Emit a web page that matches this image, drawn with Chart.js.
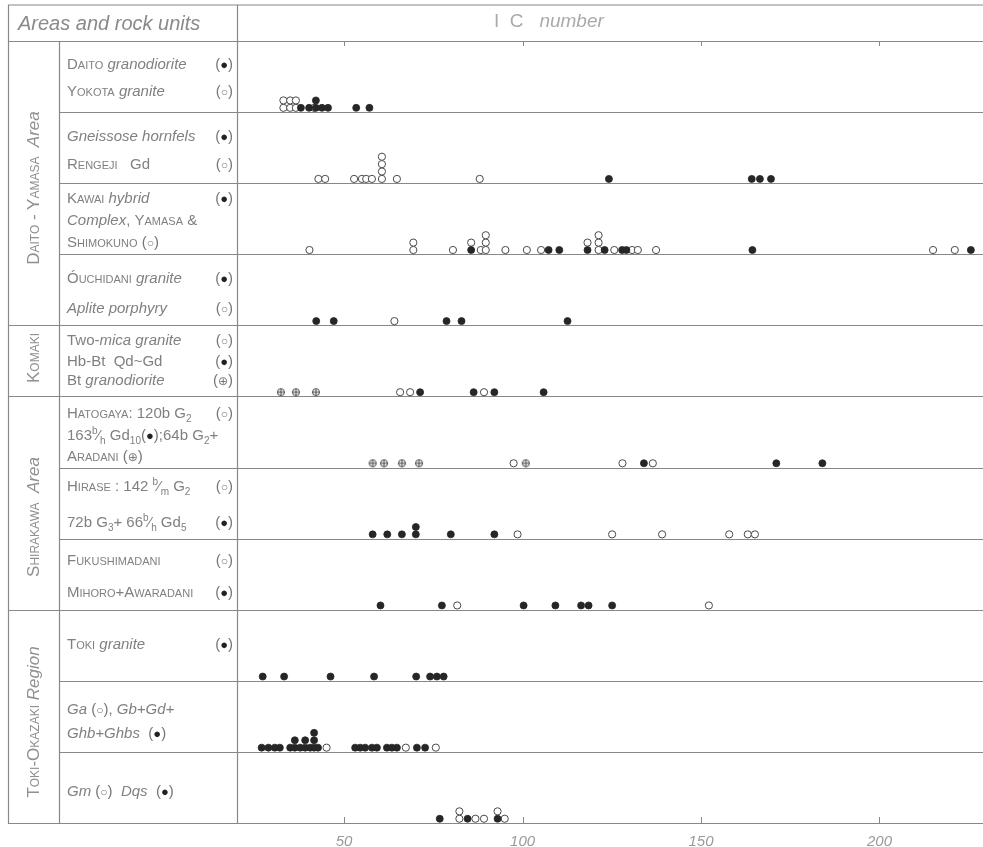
<!DOCTYPE html>
<html>
<head>
<meta charset="utf-8">
<script src="https://cdn.jsdelivr.net/npm/chart.js@4.4.1/dist/chart.umd.min.js"></script>
<style>
  html, body { margin: 0; padding: 0; background: #fff; }
  #wrap { position: relative; width: 983px; height: 847px; overflow: hidden; }
  #chart { position: absolute; left: 0; top: 0; }
  .txt { position: absolute; color: #808080; font-family: 'Liberation Sans', 'DejaVu Sans', sans-serif; font-size: 15px; white-space: nowrap; line-height: 1; }
  .unit { left: 67px; width: 166px; display: flex; justify-content: space-between; transform: translateY(-50%); }
  .area { font-size: 17px; color: #909090; transform: translate(-50%, -50%) rotate(-90deg); }
  .sc { font-variant: small-caps; }
  .sym { color: #777; }
  .sym b { font-weight: normal; color: #222; font-size: 13px; }
  .sym s { text-decoration: none; font-size: 12px; }
  sub, sup { font-size: 10px; line-height: 0; }
  .head { font-size: 20px; color: #8a8a8a; transform: translateY(-50%); }
</style>
</head>
<body>
<div id="wrap">
  <canvas id="chart" width="983" height="847"></canvas>
  <div id="labels"></div>
</div>
<script>
// rock units, one per row, top to bottom
const units = [
  'Daito granodiorite / Yokota granite',
  'Gneissose hornfels / Rengeji Gd',
  'Kawai hybrid Complex, Yamasa & Shimokuno',
  'Ouchidani granite / Aplite porphyry',
  'Komaki granites',
  'Hatogaya / Aradani',
  'Hirase',
  'Fukushimadani / Mihoro+Awaradani',
  'Toki granite',
  'Ga, Gb+Gd+Ghb+Ghbs',
  'Gm, Dqs'
];

// I.C. numbers per row; repeated values are stacked
const filledIC = [
  [37.9, 40.2, 42.1, 42.1, 43.8, 45.5, 53.4, 57.1],
  [124.2, 164.2, 166.5, 169.6],
  [85.6, 107.3, 110.3, 118.2, 123.0, 127.9, 129.1, 164.4, 225.6],
  [42.2, 47.1, 78.7, 82.9, 112.6],
  [71.3, 86.3, 92.1, 105.9],
  [134.0, 171.1, 184.0],
  [58.0, 62.1, 66.2, 70.1, 70.1, 79.9, 92.1],
  [60.2, 77.4, 100.3, 109.2, 116.4, 118.5, 125.1],
  [27.2, 33.2, 46.2, 58.4, 70.2, 74.1, 76.0, 77.9],
  [26.9, 28.8, 30.6, 32.0, 34.9, 36.2, 36.2, 37.7, 39.1, 39.1, 40.5, 41.6, 41.6, 41.6, 42.7,
   53.1, 54.5, 55.9, 57.8, 59.2, 62.0, 63.4, 64.8, 70.4, 72.7],
  [76.8, 84.6, 93.0]
];
const openIC = [
  [33.0, 33.0, 34.9, 34.9, 36.5, 36.5, 41.6],
  [42.8, 44.7, 52.8, 55.0, 56.2, 57.8, 60.6, 60.6, 60.6, 60.6, 64.8, 88.0],
  [40.3, 69.4, 69.4, 80.5, 85.6, 88.3, 89.7, 89.7, 89.7, 95.2, 101.2, 105.2, 118.2,
   121.3, 121.3, 121.3, 125.7, 130.7, 132.3, 137.4, 215.0, 221.1],
  [64.1],
  [65.7, 68.5, 89.2],
  [97.5, 128.0, 136.5],
  [98.6, 125.1, 139.1, 157.9, 163.1, 165.1],
  [81.7, 152.2],
  [],
  [45.1, 67.3, 75.7],
  [82.3, 82.3, 86.8, 89.2, 93.0, 95.0]
];
const crossedIC = [
  [], [], [], [],
  [32.3, 36.5, 42.1],
  [58.0, 61.2, 66.2, 71.0, 100.9],
  [], [], [], [], []
];
const xTicks = [50, 100, 150, 200];

// areas: label, first row, last row
const areas = [
  ['<span class="sc">Daito - Yamasa</span>&nbsp; <i>Area</i>', 0, 3],
  ['<span class="sc">Komaki</span>', 4, 4],
  ['<span class="sc">Shirakawa</span>&nbsp; <i>Area</i>', 5, 7],
  ['<span class="sc">Toki-Okazaki</span> <i>Region</i>', 8, 10]
];

const F = '(<b>●</b>)', O = '(<s>○</s>)', X = '(<s>⊕</s>)';
const unitLines = [
  [['<span class="sc">Daito</span> <i>granodiorite</i>', F], ['<span class="sc">Yokota</span> <i>granite</i>', O]],
  [['<i>Gneissose hornfels</i>', F], ['<span class="sc">Rengeji</span>&nbsp;&nbsp; Gd', O]],
  [['<span class="sc">Kawai</span> <i>hybrid</i>', F], ['<i>Complex</i>, <span class="sc">Yamasa</span> &amp;', ''], ['<span class="sc">Shimokuno</span> <span class="sym">' + O + '</span>', '']],
  [['<span class="sc">Óuchidani</span> <i>granite</i>', F], ['<i>Aplite porphyry</i>', O]],
  [['Two-<i>mica granite</i>', O], ['Hb-Bt&nbsp; Qd~Gd', F], ['Bt <i>granodiorite</i>', X]],
  [['<span class="sc">Hatogaya</span>: 120b G<sub>2</sub>', O], ['163<sup>b</sup>⁄<sub>h</sub> Gd<sub>10</sub><span class="sym">' + F + '</span>;64b G<sub>2</sub>+', ''], ['<span class="sc">Aradani</span> <span class="sym">' + X + '</span>', '']],
  [['<span class="sc">Hirase</span> : 142 <sup>b</sup>⁄<sub>m</sub> G<sub>2</sub>', O], ['72b G<sub>3</sub>+ 66<sup>b</sup>⁄<sub>h</sub> Gd<sub>5</sub>', F]],
  [['<span class="sc">Fukushimadani</span>', O], ['<span class="sc">Mihoro+Awaradani</span>', F]],
  [['<span class="sc">Toki</span> <i>granite</i>', F]],
  [['<i>Ga</i> <span class="sym">' + O + '</span>, <i>Gb+Gd+</i>', ''], ['<i>Ghb+Ghbs</i>&nbsp; <span class="sym">' + F + '</span>', '']],
  [['<i>Gm</i> <span class="sym">' + O + '</span>&nbsp; <i>Dqs</i>&nbsp; <span class="sym">' + F + '</span>', '']]
];
const lineY = [[63, 90], [135, 163], [197, 219, 241], [277, 307], [339, 360, 379],
  [412, 434, 455], [485, 521], [559, 591], [643], [708, 732], [790]];
const areaY = [188, 358, 517, 722];

// left table text
const box = document.getElementById('labels');
let html = '<div class="txt head" style="left:18px;top:23px"><i>Areas and rock units</i></div>';
html += '<div class="txt head" style="left:494px;top:20px;font-size:19px;color:#aaa">I&nbsp; C &nbsp;&nbsp;<i>number</i></div>';
areas.forEach((a, i) => {
  html += '<div class="txt area" style="left:33px;top:' + areaY[i] + 'px">' + a[0] + '</div>';
});
unitLines.forEach((lines, r) => {
  lines.forEach((ln, k) => {
    html += '<div class="txt unit" style="top:' + lineY[r][k] + 'px"><span>' + ln[0] + '</span><span class="sym">' + ln[1] + '</span></div>';
  });
});
box.innerHTML = html;

function crossedDot(r) {
  const c = document.createElement('canvas');
  const s = Math.ceil(r * 2 + 3);
  c.width = c.height = s;
  const g = c.getContext('2d');
  g.strokeStyle = '#444';
  g.lineWidth = 1;
  g.fillStyle = '#fff';
  g.beginPath(); g.arc(s / 2, s / 2, r, 0, Math.PI * 2); g.fill(); g.stroke();
  g.beginPath();
  g.moveTo(s / 2 - r, s / 2); g.lineTo(s / 2 + r, s / 2);
  g.moveTo(s / 2, s / 2 - r); g.lineTo(s / 2, s / 2 + r);
  g.stroke();
  return c;
}

// stack repeated values upward within each row
function buildPoints() {
  const sets = { filled: [], open: [], crossed: [] };
  for (let r = 0; r < units.length; r++) {
    const seen = {};
    [['filled', filledIC], ['open', openIC], ['crossed', crossedIC]].forEach(([k, arr]) => {
      arr[r].forEach(v => {
        const key = v.toFixed(1);
        const lvl = seen[key] || 0;
        seen[key] = lvl + 1;
        sets[k].push({ x: v, y: r + 1 - 0.06 - lvl * 0.104 });
      });
    });
  }
  return sets;
}
const pts = buildPoints();

const areaBreaks = [0].concat(areas.map(a => a[2] + 1));

const tablePlugin = {
  id: 'table',
  beforeDatasetsDraw(chart) {
    const { ctx, scales, chartArea } = chart;
    const top = chartArea.top, bottom = chartArea.bottom, right = 983;
    const line = (x1, y1, x2, y2) => { ctx.beginPath(); ctx.moveTo(x1, y1); ctx.lineTo(x2, y2); ctx.stroke(); };
    ctx.save();
    ctx.strokeStyle = '#888';
    ctx.lineWidth = 1.2;
    line(8, 5, right, 5);
    for (let b = 0; b <= units.length; b++) {
      const py = Math.round(scales.y.getPixelForValue(b)) + 0.5;
      line(areaBreaks.includes(b) ? 8 : 59, py, right, py);
    }
    line(8.5, 5, 8.5, bottom);
    line(59.5, top, 59.5, bottom);
    line(237.5, 5, 237.5, bottom);
    ctx.lineWidth = 1;
    xTicks.forEach(v => {
      const px = Math.round(scales.x.getPixelForValue(v)) + 0.5;
      line(px, bottom, px, bottom - 6);
      line(px, top, px, top + 5);
    });
    ctx.restore();
  }
};

new Chart(document.getElementById('chart'), {
  type: 'scatter',
  data: {
    datasets: [
      { label: 'filled', data: pts.filled, pointRadius: 3.5, backgroundColor: '#262626', borderColor: '#262626', borderWidth: 0.8 },
      { label: 'open', data: pts.open, pointRadius: 3.6, backgroundColor: '#fff', borderColor: '#4a4a4a', borderWidth: 1 },
      { label: 'crossed', data: pts.crossed, pointStyle: crossedDot(3.5) }
    ]
  },
  options: {
    responsive: false,
    animation: false,
    layout: { autoPadding: false, padding: { left: 237, top: 41, right: 0, bottom: 0 } },
    plugins: { legend: { display: false }, tooltip: { enabled: false } },
    scales: {
      x: {
        type: 'linear', min: 20, max: 229,
        afterBuildTicks: s => { s.ticks = xTicks.map(v => ({ value: v })); },
        afterFit: s => { s.height = 24; },
        grid: { display: false },
        border: { display: false },
        ticks: { padding: 2, color: '#9a9a9a', font: { family: 'Liberation Sans', size: 15, style: 'italic' } }
      },
      y: { type: 'linear', min: 0, max: 11, reverse: true, display: false }
    }
  },
  plugins: [tablePlugin]
});
</script>
</body>
</html>
